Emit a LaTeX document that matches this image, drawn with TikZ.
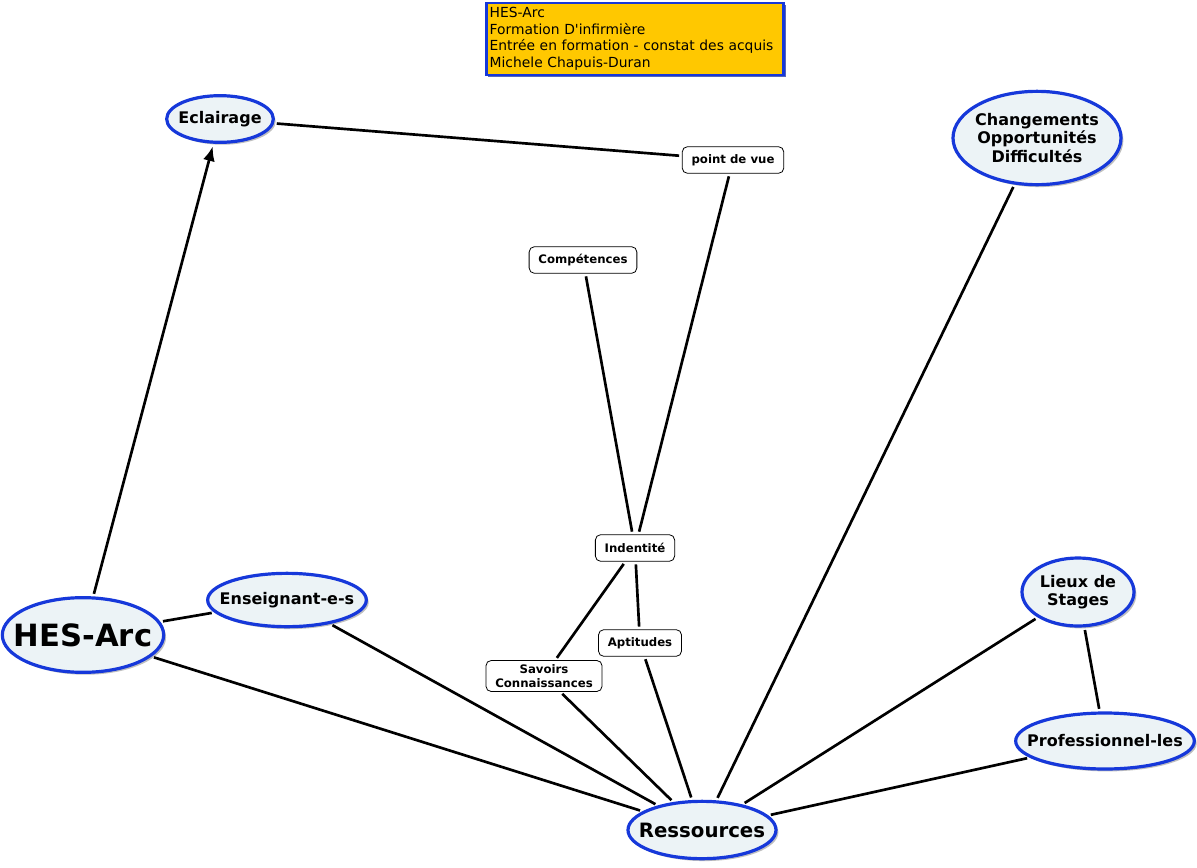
\documentclass[tikz,border=0pt]{standalone}
\usepackage{fontspec}
\setmainfont{DejaVu Sans}
\usetikzlibrary{shapes.geometric,shadows,arrows.meta}
\definecolor{mapblue}{RGB}{22,56,218}
\definecolor{mapfill}{RGB}{236,243,246}
\definecolor{titleorange}{RGB}{255,200,0}

\begin{document}
\begin{tikzpicture}[x=0.75pt,y=-0.75pt,
  concept/.style={ellipse,draw=mapblue,line width=2.4pt,fill=mapfill,inner sep=-40pt,align=center,
    font=\bfseries\fontsize{12}{14}\selectfont,
    drop shadow={opacity=0.5,shadow xshift=1.8pt,shadow yshift=-1.8pt}},
  linkbox/.style={draw,rounded corners=4pt,fill=white,line width=0.6pt,inner xsep=7pt,inner ysep=3pt,
    minimum height=20pt,align=center,font=\bfseries\fontsize{8.8}{10.5}\selectfont},
  conn/.style={line width=2pt,shorten <=2pt,shorten >=2pt}]
\useasboundingbox (0,0) rectangle (1197,868);

% title
\node[draw=mapblue,line width=2pt,fill=titleorange,text width=218pt,minimum height=54pt,
  inner xsep=2.5pt,inner ysep=3pt,align=left,font=\fontsize{10.4}{12.4}\selectfont,
  drop shadow={fill=mapblue!70!black,opacity=0.7,shadow xshift=1.5pt,shadow yshift=-1.5pt}] (title) at (635,39)
  {HES-Arc\\Formation D\textquotesingle infirmière\\Entrée en formation - constat des acquis\\Michele Chapuis-Duran};

% concepts
\node[concept,minimum width=80pt,minimum height=35pt] (eclairage) at (220,119) {Eclairage};
\node[concept,minimum width=126pt,minimum height=70pt] (changements) at (1037,138) {Changements\\Opportunités\\Difficultés};
\node[concept,minimum width=121pt,minimum height=56pt,font=\bfseries\fontsize{23}{25}\selectfont] (hesarc) at (83,635) {HES-Arc};
\node[concept,minimum width=119pt,minimum height=40pt] (enseignant) at (287,600) {Enseignant-e-s};
\node[concept,minimum width=84pt,minimum height=51pt] (lieux) at (1078,592) {Lieux de\\Stages};
\node[concept,minimum width=134pt,minimum height=42pt] (professionnel) at (1105,741) {Professionnel-les};
\node[concept,minimum width=111pt,minimum height=43pt,font=\bfseries\fontsize{14.8}{16}\selectfont] (ressources) at (702,830) {Ressources};

% linking phrases
\node[linkbox] (pointdevue) at (733,160) {point de vue};
\node[linkbox] (competences) at (583,260) {Compétences};
\node[linkbox] (identite) at (635,548) {Indentité};
\node[linkbox] (aptitudes) at (640,643) {Aptitudes};
\node[linkbox] (savoirs) at (544,676) {Savoirs\\Connaissances};

% connectors
\draw[conn,-{Latex[length=11pt,width=9pt]}] (hesarc) -- (eclairage);
\draw[conn] (eclairage) -- (pointdevue);
\draw[conn] (pointdevue) -- (identite);
\draw[conn] (competences) -- (identite);
\draw[conn] (identite) -- (savoirs);
\draw[conn] (identite) -- (aptitudes);
\draw[conn] (aptitudes) -- (ressources);
\draw[conn] (savoirs) -- (ressources);
\draw[conn] (enseignant) -- (ressources);
\draw[conn] (hesarc) -- (enseignant);
\draw[conn] (hesarc) -- (ressources);
\draw[conn] (changements) -- (ressources);
\draw[conn] (lieux) -- (ressources);
\draw[conn] (lieux) -- (professionnel);
\draw[conn] (professionnel) -- (ressources);
\end{tikzpicture}
\end{document}
